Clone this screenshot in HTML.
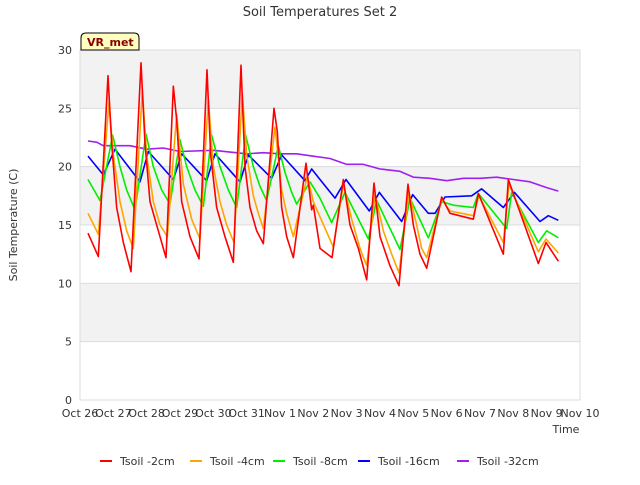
<!DOCTYPE html>
<html><head><meta charset="utf-8"><style>
body{margin:0;background:#fff;font-family:"Liberation Sans",sans-serif}
svg text{font-family:"DejaVu Sans","Liberation Sans",sans-serif;fill:#333}
</style></head><body>
<svg id="c" width="640" height="480">
<text x="320" y="16" text-anchor="middle" font-size="13">Soil Temperatures Set 2</text>
<g id="plot"></g>
<g>
<path d="M81,50 L81,38 Q81,33 86,33 L134,33 Q139,33 139,38 L139,50 Z" fill="#ffffc0" stroke="#000" stroke-width="1"/>
<text x="87" y="46" font-size="11" font-weight="bold" style="fill:#8b0000">VR_met</text>
</g>
<text transform="translate(17,225) rotate(-90)" text-anchor="middle" font-size="11">Soil Temperature (C)</text>
<text x="566" y="433" text-anchor="middle" font-size="11">Time</text>
<g id="legend"></g>
</svg>
<script>
const xTicks=["Oct 26","Oct 27","Oct 28","Oct 29","Oct 30","Oct 31","Nov 1","Nov 2","Nov 3","Nov 4","Nov 5","Nov 6","Nov 7","Nov 8","Nov 9","Nov 10"];
const yTicks=[0,5,10,15,20,25,30];
const seriesNames=["Tsoil -2cm","Tsoil -4cm","Tsoil -8cm","Tsoil -16cm","Tsoil -32cm"];
const seriesColors=["#ff0000","#ffa500","#00ee00","#0000ff","#a020f0"];
const t2=[0.24,0.55,0.84,0.95,1.1,1.3,1.53,1.83,1.95,2.1,2.35,2.58,2.8,2.9,3.05,3.3,3.57,3.81,3.92,4.1,4.35,4.6,4.83,4.95,5.1,5.3,5.5,5.82,5.92,6.05,6.2,6.4,6.78,6.95,7.0,7.2,7.56,7.9,8.1,8.35,8.6,8.82,9.0,9.3,9.57,9.84,10.0,10.2,10.4,10.85,11.1,11.8,11.95,12.7,12.85,13.75,13.98,14.35];
const v2=[14.3,12.3,27.8,22,16.5,13.5,11.0,28.9,22,17,14.5,12.2,26.9,24,17,14,12.1,28.3,21,16.5,14,11.8,28.7,20,16.5,14.5,13.4,25.0,23,16.5,14,12.2,20.3,16.3,16.7,13.0,12.2,18.9,15,13,10.3,18.6,14,11.5,9.8,18.5,15,12.5,11.3,17.4,16.0,15.5,17.7,12.5,18.9,11.7,13.5,11.9];
const t4=[0.24,0.55,0.87,1.0,1.2,1.4,1.6,1.87,2.0,2.2,2.4,2.62,2.9,3.1,3.35,3.6,3.85,4.0,4.2,4.4,4.62,4.87,5.0,5.2,5.35,5.5,5.85,6.05,6.2,6.4,6.82,7.0,7.6,7.9,8.15,8.4,8.6,8.85,9.1,9.35,9.57,9.87,10.1,10.25,10.4,10.85,11.1,11.8,11.97,12.7,12.87,13.75,13.98,14.35];
const v4=[16.0,14.2,25.5,21,17,14.5,13.0,26.6,21,17,15,14.0,24.5,18.5,15.5,13.8,25.8,20,17,15,13.5,26.3,21,17.5,16,14.7,23.4,18,16,14.0,19.2,17.0,13.1,18.5,15.5,13,11.5,17.6,14.5,12.5,10.9,17.8,15,13,12.2,17.2,16.2,15.8,17.5,13.5,18.5,12.7,13.8,12.6];
const t8=[0.24,0.6,0.98,1.2,1.4,1.65,1.98,2.2,2.45,2.7,3.0,3.2,3.45,3.7,3.95,4.2,4.45,4.7,4.97,5.2,5.4,5.6,5.95,6.15,6.35,6.5,6.9,7.2,7.55,7.95,8.65,8.9,9.6,9.9,10.45,10.85,11.2,11.8,11.95,12.8,12.95,13.75,14.0,14.35];
const v8=[18.9,17.1,22.7,20,18,16.3,22.8,20,18,16.8,22.3,20,18,16.6,22.7,20,18,16.5,22.7,20,18.3,17.1,21.8,19.5,17.8,16.8,18.7,17.3,15.2,17.8,13.8,17.1,12.9,17.3,13.9,17.0,16.7,16.5,17.7,14.7,17.8,13.5,14.5,13.9];
const t16=[0.24,0.7,1.05,1.8,2.05,2.8,3.05,3.8,4.05,4.8,5.05,5.75,6.05,6.75,6.95,7.2,7.65,7.98,8.68,8.98,9.65,9.98,10.45,10.65,10.95,11.75,12.05,12.7,13.03,13.8,14.05,14.35];
const v16=[20.9,19.3,21.5,18.7,21.3,18.9,21.1,18.8,21.1,18.7,21.0,19.0,21.0,18.8,19.8,18.9,17.3,18.9,16.2,17.8,15.3,17.6,16.0,16.0,17.4,17.5,18.1,16.5,17.8,15.3,15.8,15.4];
const t32=[0.24,0.5,0.7,1.5,2.0,2.5,3.0,4.0,5.0,5.5,6.0,6.5,7.0,7.5,8.0,8.5,9.0,9.6,10.0,10.5,11.0,11.5,12.0,12.5,13.0,13.5,14.0,14.35];
const v32=[22.2,22.1,21.8,21.8,21.5,21.6,21.3,21.4,21.1,21.2,21.1,21.1,20.9,20.7,20.2,20.2,19.8,19.6,19.1,19.0,18.8,19.0,19.0,19.1,18.9,18.7,18.2,17.9];
const times=[t2,t4,t8,t16,t32], vals=[v2,v4,v8,v16,v32];
const X0=80,X1=580,Y0=400,Y1=50;
const xs=d=>X0+d*(X1-X0)/15, ys=v=>Y0-v*(Y0-Y1)/30;
const NS="http://www.w3.org/2000/svg";
const plot=document.getElementById('plot');
function mk(tag,at,parent){const e=document.createElementNS(NS,tag);for(const k in at)e.setAttribute(k,at[k]);(parent||plot).appendChild(e);return e;}
for(let i=0;i<3;i++){const b=mk('rect',{x:X0,y:ys(10*i+10),width:X1-X0,height:ys(0)-ys(5),fill:'#f2f2f2'});

}
yTicks.forEach(v=>{const l=mk('line',{x1:X0,x2:X1,y1:ys(v),y2:ys(v),stroke:'#dcdcdc'});


const t=mk('text',{x:X0-8,y:ys(v)+4,'text-anchor':'end','font-size':'11'});t.textContent=v;

});
mk('rect',{x:X0,y:Y1,width:X1-X0,height:Y0-Y1,fill:'none',stroke:'#dcdcdc'});
xTicks.forEach((s,i)=>{const t=mk('text',{x:xs(i),y:Y0+17,'text-anchor':'middle','font-size':'11'});t.textContent=s;

});
[4,3,2,1,0].forEach(i=>{const p=mk('polyline',{points:times[i].map((d,j)=>xs(d)+','+ys(vals[i][j])).join(' '),fill:'none',stroke:seriesColors[i],'stroke-width':'1.6','stroke-linejoin':'round'});

});
const lg=document.getElementById('legend');
const lx=[100,190,273,358,457];
seriesNames.forEach((n,i)=>{const g=mk('g',{},lg);


mk('line',{x1:lx[i],x2:lx[i]+12,y1:461,y2:461,stroke:seriesColors[i],'stroke-width':'2'},g);
const t=mk('text',{x:lx[i]+20,y:465,'font-size':'11'},g);t.textContent=n;});
</script>
</body></html>
